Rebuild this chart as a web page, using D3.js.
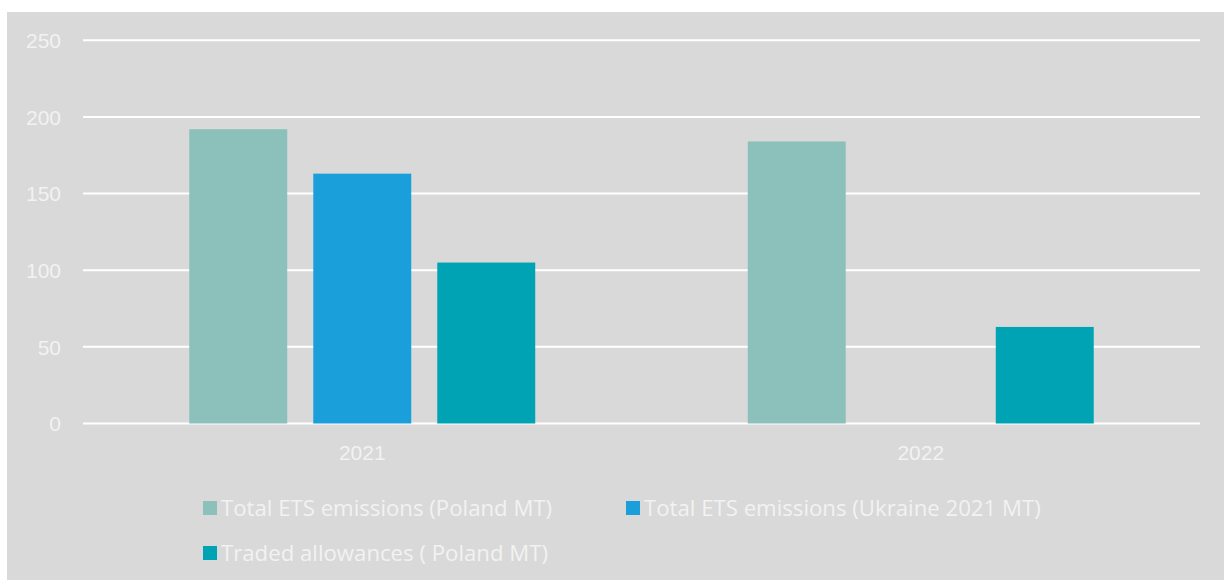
<!DOCTYPE html>
<html>
<head>
<meta charset="utf-8">
<script src="https://cdn.jsdelivr.net/npm/d3@7"></script>
<style>
  html, body { margin: 0; padding: 0; background: #ffffff; }
  svg { display: block; }
</style>
</head>
<body>
<svg id="chart" width="1224" height="580"></svg>
<script>
// Categories, series and tick labels
const years = ["2021", "2022"];
const seriesNames = [
  "Total ETS emissions (Poland MT)",
  "Total ETS emissions (Ukraine 2021 MT)",
  "Traded allowances ( Poland MT)"
];
const polandEmissions = [192, 184];
const ukraineEmissions = [163, null];
const tradedAllowances = [105, 63];
const yTicks = [0, 50, 100, 150, 200, 250];
const seriesColors = ["#8BC1BA", "#1A9FDA", "#00A3B4"];

const seriesValues = [polandEmissions, ukraineEmissions, tradedAllowances];

const svg = d3.select("#chart");
const W = 1224, H = 580;

// chart background panel
svg.append("rect")
  .attr("x", 7).attr("y", 12)
  .attr("width", W - 7).attr("height", H - 12)
  .attr("fill", "#D9D9D9");

const plot = { left: 83, right: 1200, top: 40.3, bottom: 423.5 };

const y = d3.scaleLinear().domain([0, 250]).range([plot.bottom, plot.top]);
const x0 = d3.scaleBand().domain(years).range([plot.left, plot.right]).padding(0);
const x1 = d3.scaleBand().domain(d3.range(seriesNames.length))
  .range([0, x0.bandwidth()])
  .paddingInner(0.21)
  .paddingOuter(0.857);

// gridlines
svg.append("g")
  .selectAll("line")
  .data(yTicks)
  .join("line")
  .attr("x1", plot.left).attr("x2", plot.right)
  .attr("y1", d => y(d)).attr("y2", d => y(d))
  .attr("stroke", "#FFFFFF")
  .attr("stroke-width", 2);

// y axis labels
const yAxis = d3.axisLeft(y).tickValues(yTicks).tickSize(0).tickPadding(0);
const gy = svg.append("g")
  .attr("transform", `translate(${61},0)`)
  .call(yAxis);
gy.select(".domain").remove();
gy.selectAll("text")
  .attr("fill", "#F2F2F2")
  .attr("font-family", "'Liberation Sans', Arial, sans-serif")
  .attr("font-size", 21)
  .attr("dy", "0.35em");

// bars
const groups = svg.append("g")
  .selectAll("g")
  .data(years)
  .join("g")
  .attr("transform", d => `translate(${x0(d)},0)`);

groups.selectAll("rect")
  .data((d, i) => seriesValues.map((vals, s) => ({ s, v: vals[i] })).filter(e => e.v != null))
  .join("rect")
  .attr("x", d => x1(d.s))
  .attr("width", x1.bandwidth())
  .attr("y", d => y(d.v))
  .attr("height", d => y(0) - y(d.v))
  .attr("fill", d => seriesColors[d.s]);

// x axis labels
const xAxis = d3.axisBottom(x0).tickSize(0).tickPadding(0);
const gx = svg.append("g")
  .attr("transform", `translate(0,${453})`)
  .call(xAxis);
gx.select(".domain").remove();
gx.selectAll("text")
  .attr("fill", "#F2F2F2")
  .attr("font-family", "'Liberation Sans', Arial, sans-serif")
  .attr("font-size", 21)
  .attr("dy", "0.35em");

// legend
const legendPos = [
  { x: 203, y: 508 },
  { x: 626, y: 508 },
  { x: 203, y: 553 }
];
const legend = svg.append("g")
  .selectAll("g")
  .data(seriesNames)
  .join("g")
  .attr("transform", (d, i) => `translate(${legendPos[i].x},${legendPos[i].y})`);

legend.append("rect")
  .attr("x", 0).attr("y", -7)
  .attr("width", 14).attr("height", 14)
  .attr("fill", (d, i) => seriesColors[i]);

legend.append("text")
  .attr("x", 18)
  .attr("y", 0)
  .attr("dy", "0.35em")
  .attr("fill", "#F2F2F2")
  .attr("font-family", "'Open Sans', 'Noto Sans', sans-serif")
  .attr("font-size", 22.2)
  .text(d => d);
</script>
</body>
</html>
